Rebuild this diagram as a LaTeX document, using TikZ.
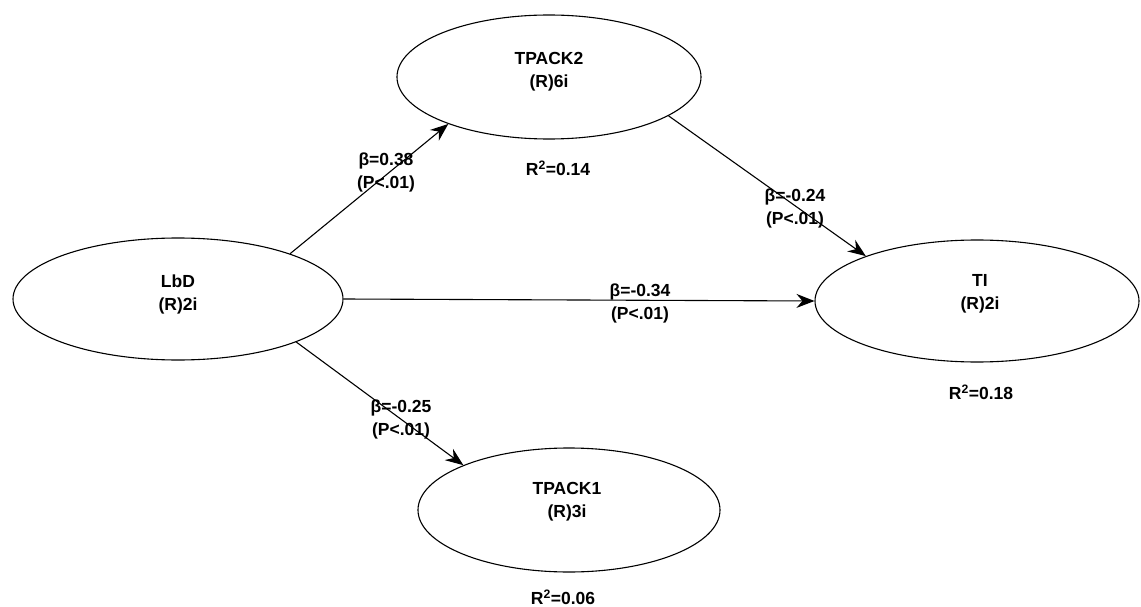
\documentclass[tikz,border=0pt]{standalone}
\usepackage{fontspec}
\setmainfont{Liberation Sans}
\usetikzlibrary{shapes.geometric,arrows.meta}
\begin{document}
\begin{tikzpicture}[x=1pt,y=-1pt,
  construct/.style={draw=black,line width=1.1pt,ellipse,inner sep=0pt},
  lbl/.style={font=\fontsize{17.5}{23}\selectfont\bfseries,align=center,text=black},
  path/.style={line width=1.1pt,-{Stealth[length=18pt,width=14pt,inset=6pt]}}]
  \useasboundingbox (0,0) rectangle (1141,607);
  % latent constructs
  \node[construct,minimum width=304pt,minimum height=124pt] (tpack2) at (549,77) {};
  \node[construct,minimum width=330pt,minimum height=122pt] (lbd) at (178,299) {};
  \node[construct,minimum width=324pt,minimum height=122pt] (ti) at (977,301) {};
  \node[construct,minimum width=302pt,minimum height=124pt] (tpack1) at (569,510) {};
  % construct names and indicator counts
  \node[lbl] (tpack2t) at (549,72) {TPACK2\\(R)6i};
  \node[lbl] (lbdt) at (178,294) {LbD\\(R)2i};
  \node[lbl] (tit) at (980,294) {TI\\(R)2i};
  \node[lbl] (tpack1t) at (567,502) {TPACK1\\(R)3i};
  % explained variance
  \node[lbl] (r2a) at (558,168) {R\textsuperscript{2}=0.14};
  \node[lbl] (r2b) at (981,392) {R\textsuperscript{2}=0.18};
  \node[lbl] (r2c) at (563,597) {R\textsuperscript{2}=0.06};
  % structural paths
  \draw[path] (lbd.22.7) -- (tpack2.-155.7);
  \draw[path] (tpack2.-18.6) -- (ti.158.6);
  \draw[path] (lbd.east) -- (ti.west);
  \draw[path] (lbd.-20.3) -- (tpack1.157.5);
  % path coefficients
  \node[lbl] (b1) at (386,172) {β=0.38\\(P<.01)};
  \node[lbl] (b2) at (795,208) {β=-0.24\\(P<.01)};
  \node[lbl] (b3) at (640,303) {β=-0.34\\(P<.01)};
  \node[lbl] (b4) at (401,419) {β=-0.25\\(P<.01)};
\end{tikzpicture}
\end{document}
